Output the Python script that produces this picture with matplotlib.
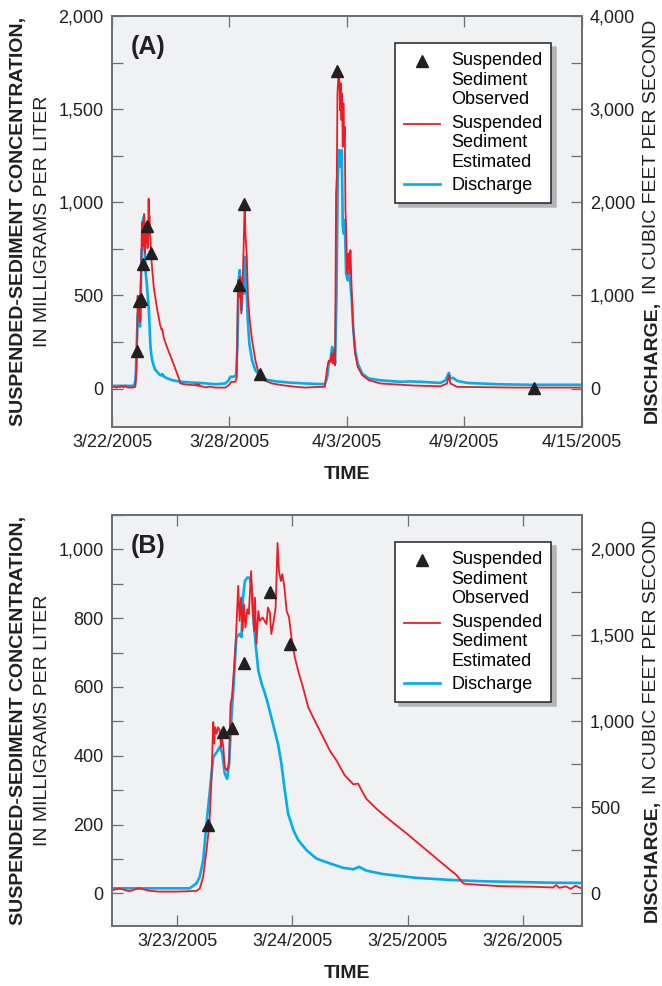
import numpy as np
import pandas as pd
import matplotlib
matplotlib.use("Agg")
import matplotlib.pyplot as plt
from matplotlib.ticker import MultipleLocator, FuncFormatter
from matplotlib.legend_handler import HandlerLine2D

plt.rcParams["font.family"] = ["Liberation Sans", "DejaVu Sans"]

# =========================================================
# Data (times are hours after 3/22/2005 00:00)
# =========================================================
START = pd.Timestamp("2005-03-22 00:00")

# Discharge, cubic feet per second
Q_HOURS = [0, 10, 24, 26.6, 28.0, 28.7, 29.4, 30.1, 30.8, 31.5, 32.2, 32.9, 33.4,
           33.9, 34.4, 34.8, 35.3, 35.8, 36.3, 37.0, 37.4, 37.7, 38.1, 38.6, 39.1,
           39.5, 39.8, 40.4, 40.9, 41.6, 42.3, 42.9, 43.6, 44.3, 45.0, 45.7, 46.4,
           47.1, 48.2, 49.2, 50.9, 53.0, 55.8, 58.6, 60.7, 61.9, 63.4, 66.9, 73.8,
           80.8, 87.7, 94.7, 101.6, 108.3, 126.8, 139.1, 143.2, 145.2, 149.3, 152.2,
           153.8, 155.5, 156.7, 157.9, 159.1, 160.3, 162.0, 163.7, 164.9, 166.6,
           168.5, 171.8, 175.9, 182.2, 188.2, 200.4, 216.7, 237.4, 261.1, 264.0,
           266.0, 268.0, 270.0, 272.1, 273.7, 275.4, 277.0, 278.6, 280.2, 281.9,
           283.1, 284.4, 285.6, 287.2, 289.2, 290.9, 292.5, 294.2, 295.8, 298.3,
           301.5, 306.9, 315.0, 329.4, 354.0, 366.0, 378.5, 403.0, 409.2, 413.3,
           415.2, 418.6, 423.4, 435.8, 472.6, 513.6, 576.0]
Q_CFS = [28, 29, 29, 29, 58, 96, 194, 406, 600, 792, 820, 854, 812,
         696, 666, 754, 1024, 1236, 1488, 1508, 1490, 1720, 1816, 1836, 1836,
         1778, 1624, 1430, 1294, 1218, 1160, 1102, 1024, 946, 870, 754, 600,
         464, 368, 310, 252, 202, 174, 148, 140, 154, 132, 112, 90,
         78, 70, 66, 62, 60, 46, 54, 90, 126, 126, 144,
         448, 1164, 1272, 1092, 842, 1164, 1020, 1414, 1092, 734,
         484, 304, 196, 126, 96, 78, 64, 54, 46, 120,
         280, 304, 446, 410, 268, 1020, 2274, 2560, 2380, 2560,
         1736, 1664, 1808, 1234, 1162, 1234, 1126, 948, 662, 410,
         268, 160, 108, 88, 72, 76, 72, 60, 88, 168,
         108, 114, 82, 60, 46, 40, 40]

# Suspended-sediment concentration estimated, mg/L
SSC_HOURS = [0, 3, 5, 8, 10, 12, 14, 16, 18, 20, 24, 28.0, 28.7, 29.4, 30.1, 30.7,
             31.1, 31.5, 31.7, 31.9, 32.2, 32.5, 32.9, 33.1, 33.3, 33.6, 33.9, 34.4,
             34.8, 35.1, 35.4, 35.8, 36.2, 36.7, 37.0, 37.3, 37.6, 37.9, 38.2, 38.6,
             38.9, 39.4, 39.7, 40.0, 40.2, 40.5, 40.9, 41.2, 41.8, 42.2, 42.6, 42.9,
             43.3, 43.6, 44.1, 44.5, 44.9, 45.2, 45.6, 45.9, 46.3, 46.8, 47.3, 47.8,
             48.5, 49.2, 50.2, 51.3, 52.3, 54.4, 55.8, 57.2, 58.9, 60.7, 61.7, 62.4,
             63.4, 65.5, 68.3, 71.8, 75.9, 80.1, 82.2, 83.6, 84.3, 91.2, 98.2, 102.3,
             103.0, 103.6, 105.0, 106.0, 107.0, 108.3, 115.0, 120.0, 126.8, 139.1,
             143.2, 146.4, 151.4, 153.1, 154.6, 156.2, 157.4, 158.6, 160.3, 161.5,
             162.7, 163.9, 165.4, 166.8, 169.0, 171.8, 175.9, 180.0, 186.2, 196.3,
             208.6, 225.1, 237.4, 250.0, 261.1, 264.0, 266.0, 268.0, 269.6, 270.8,
             272.1, 273.7, 274.9, 275.8, 276.6, 277.8, 279.0, 279.8, 280.7, 281.5,
             282.3, 283.1, 283.9, 284.8, 285.6, 286.4, 287.2, 288.4, 290.1, 291.3,
             292.5, 294.2, 295.8, 298.3, 301.5, 306.9, 315.0, 329.4, 370.3, 403.0,
             411.1, 413.3, 415.2, 423.4, 493.2, 576.0]
SSC_EST = [5, 12, 4, 10, 8, 14, 6, 15, 8, 5, 5, 7, 14, 48, 126, 203,
           319, 498, 435, 483, 464, 483, 473, 425, 454, 425, 367, 357,
           377, 551, 570, 647, 734, 894, 792, 860, 763, 840, 773, 826,
           812, 937, 840, 763, 860, 725, 821, 792, 802, 792, 783, 831,
           816, 754, 792, 831, 1019, 937, 908, 928, 894, 821, 802, 744,
           686, 647, 599, 541, 512, 454, 415, 386, 343, 317, 319, 300,
           275, 246, 213, 174, 126, 77, 53, 29, 27, 21, 19, 17,
           24, 16, 20, 13, 22, 14, 6, 10, 5, 5,
           18, 36, 36, 63, 582, 492, 600, 403, 564, 761,
           990, 814, 707, 492, 367, 260, 152, 81, 45, 27,
           18, 9, 5, 8, 9, 110, 150, 143, 188, 134,
           205, 125, 1047, 1137, 1584, 1683, 1656, 1494, 1638, 1441,
           1584, 1298, 1531, 1334, 1405, 958, 868, 617, 725, 617,
           743, 510, 331, 188, 116, 72, 45, 27, 16, 12,
           27, 72, 27, 9, 5, 5]

# Suspended-sediment concentration observed, mg/L
OBS_HOURS = [30.4, 33.45, 35.4, 37.9, 43.4, 47.45, 155.8, 162.5, 181.2, 276.0, 517.2]
OBS_SSC = [200, 470, 480, 670, 875, 725, 555, 990, 80, 1705, 5]

A_TICKS = ["2005-03-22", "2005-03-28", "2005-04-03", "2005-04-09", "2005-04-15"]
B_TICKS = ["2005-03-23", "2005-03-24", "2005-03-25", "2005-03-26"]

# =========================================================
# Styling
# =========================================================
RED = "#ed1c24"
CYAN = "#00aeef"
INK = "#231f20"
GREY = "#6d6e71"
BG = "#f0f1f3"
W, H = 662, 986


def to_time(hours):
    return (START + pd.to_timedelta(np.asarray(hours, dtype=float), unit="h")).to_numpy()


class FirstLineHandler(HandlerLine2D):
    """Put the legend symbol beside the first line of a multi-line label."""

    def __init__(self, lift, **kw):
        super().__init__(**kw)
        self.lift = lift

    def create_artists(self, legend, orig_handle, xdescent, ydescent,
                       width, height, fontsize, trans):
        arts = super().create_artists(legend, orig_handle, xdescent, ydescent,
                                      width, height, fontsize, trans)
        for a in arts:
            a.set_ydata(np.asarray(a.get_ydata()) + self.lift)
        return arts


fig = plt.figure(figsize=(W / 100, H / 100), dpi=100)
comma = FuncFormatter(lambda v, p: f"{v:,.0f}")


def draw_panel(rect, letter, xlim, ticks, ylim, ymaj, ymin, qlim, qmaj, qmin):
    ax = fig.add_axes(rect)
    ax2 = ax.twinx()
    ax.set_zorder(ax2.get_zorder() + 1)
    ax.patch.set_visible(False)
    ax2.patch.set_visible(True)
    ax2.patch.set_facecolor(BG)

    hq, = ax2.plot(to_time(Q_HOURS), Q_CFS, color=CYAN, lw=1.9, label="Discharge")
    he, = ax.plot(to_time(SSC_HOURS), SSC_EST, color=RED, lw=1.3,
                  label="Suspended\nSediment\nEstimated")
    ho, = ax.plot(to_time(OBS_HOURS), OBS_SSC, ls="none", marker="^", ms=9,
                  color=INK, label="Suspended\nSediment\nObserved", zorder=4)

    ax.set_xlim(np.datetime64(xlim[0]), np.datetime64(xlim[1]))
    tk = pd.to_datetime(ticks)
    ax.set_xticks(tk.to_numpy(), labels=[f"{t.month}/{t.day}/{t.year}" for t in tk])

    ax.set_ylim(*ylim)
    ax.yaxis.set_major_locator(MultipleLocator(ymaj))
    ax.yaxis.set_minor_locator(MultipleLocator(ymin))
    ax.yaxis.set_major_formatter(comma)
    ax2.set_ylim(*qlim)
    ax2.yaxis.set_major_locator(MultipleLocator(qmaj))
    ax2.yaxis.set_minor_locator(MultipleLocator(qmin))
    ax2.yaxis.set_major_formatter(comma)

    for a in (ax, ax2):
        for s in a.spines.values():
            s.set_color(GREY)
            s.set_linewidth(1.3)
        a.tick_params(which="both", direction="in", length=8, width=0.9,
                      color=GREY, labelsize=13, labelcolor=INK)
    ax.tick_params(axis="x", top=True, pad=5)
    ax.tick_params(axis="y", pad=6)
    ax2.tick_params(axis="y", pad=6)

    ax.text(0.04, 0.925, letter, transform=ax.transAxes, fontsize=18,
            fontweight="bold", color=INK, va="center")

    # symbols sit beside the first line of the three-line labels
    lift = 1.07 * 13
    ax.legend(handles=[ho, he, hq], loc="upper right", bbox_to_anchor=(0.936, 0.934),
              borderaxespad=0, fontsize=13, handlelength=2.0, handletextpad=0.6,
              borderpad=0.5, labelspacing=0.35, fancybox=False, framealpha=1,
              edgecolor=INK, facecolor="white",
              shadow=dict(ox=3, oy=-3, facecolor="#b3b4b7", edgecolor="#b3b4b7", alpha=1),
              handler_map={ho: FirstLineHandler(lift), he: FirstLineHandler(lift)})
    ax.get_legend().get_frame().set_linewidth(1.1)

    # axis titles
    pos = ax.get_position()
    yc = (pos.y0 + pos.y1) / 2
    fig.text(19 / W, yc, "SUSPENDED-SEDIMENT CONCENTRATION,", rotation=90,
             ha="center", va="center", fontsize=14, fontweight="bold", color=INK)
    fig.text(43 / W, yc, "IN MILLIGRAMS PER LITER", rotation=90,
             ha="center", va="center", fontsize=14, color=INK)
    fig.text((pos.x0 + pos.x1) / 2, pos.y0 - 48 / H, "TIME", ha="center",
             va="center", fontsize=14, fontweight="bold", color=INK)

    r = fig.canvas.get_renderer()
    t1 = fig.text(652 / W, 0, "DISCHARGE,", rotation=90, ha="center", va="bottom",
                  fontsize=14, fontweight="bold", color=INK)
    t2 = fig.text(652 / W, 0, "IN CUBIC FEET PER SECOND", rotation=90, ha="center",
                  va="bottom", fontsize=14, color=INK)
    h1 = t1.get_window_extent(r).height
    h2 = t2.get_window_extent(r).height
    gap = 6
    y0 = yc * H - (h1 + gap + h2) / 2
    t1.set_y(y0 / H)
    t2.set_y((y0 + h1 + gap) / H)
    return ax


draw_panel([112 / W, 1 - 426.7 / H, 469.5 / W, 410.7 / H], "(A)",
           ("2005-03-22T00:00", "2005-04-15T00:00"), A_TICKS,
           (-205, 2000), 500, 250, (-410, 4000), 1000, 500)
draw_panel([112 / W, 1 - 926 / H, 469.5 / W, 411 / H], "(B)",
           ("2005-03-22T10:24", "2005-03-26T12:15"), B_TICKS,
           (-95, 1100), 200, 100, (-190, 2200), 500, 250)

fig.savefig("out.png", dpi=100)
